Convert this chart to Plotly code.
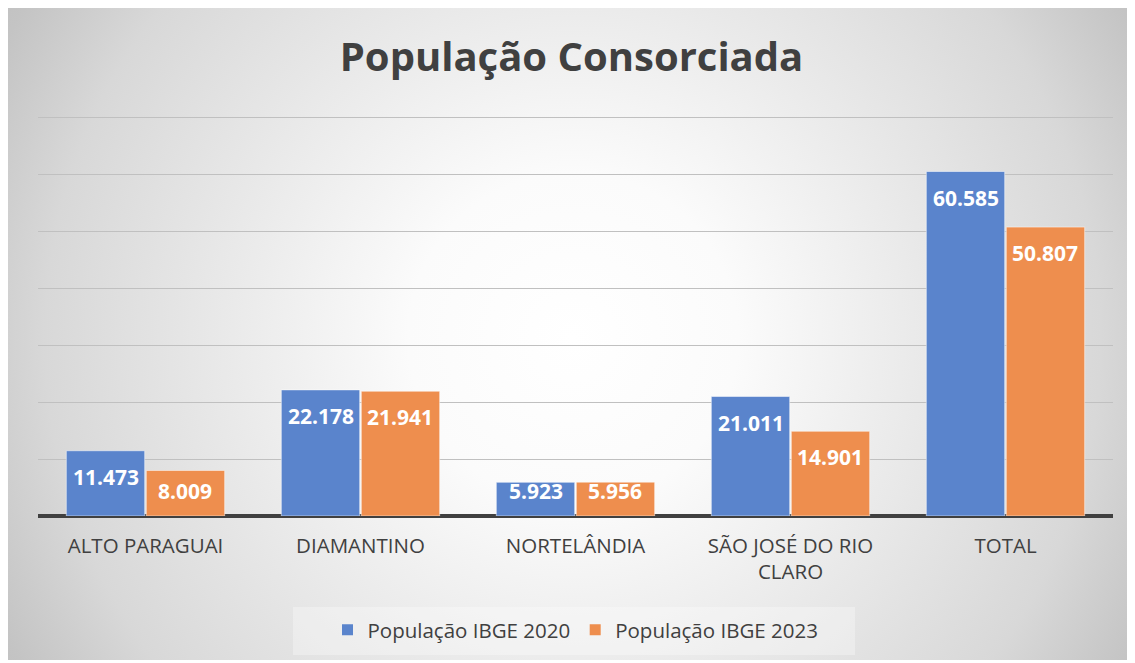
import base64
import plotly.graph_objects as go

categories = ["ALTO PARAGUAI", "DIAMANTINO", "NORTELÂNDIA", "SÃO JOSÉ DO RIO<br>CLARO", "TOTAL"]
pop_2020 = [11473, 22178, 5923, 21011, 60585]
pop_2023 = [8009, 21941, 5956, 14901, 50807]
series_names = ["População IBGE 2020", "População IBGE 2023"]
title_text = "População Consorciada"

W, H = 1127, 655
ML, MR, MT, MB = 30, 22, 106, 147
PW, PH = W - ML - MR, H - MT - MB
YMAX = 70700
BARGAP = 0.256

svg = f'''<svg xmlns="http://www.w3.org/2000/svg" width="{W}" height="{H}" viewBox="0 0 {W} {H}">
<defs><radialGradient id="g" gradientUnits="userSpaceOnUse" cx="565" cy="330" r="660">
<stop offset="0" stop-color="#ffffff"/><stop offset="0.25" stop-color="#fbfbfb"/>
<stop offset="0.5" stop-color="#ebebeb"/><stop offset="0.8" stop-color="#d8d8d8"/>
<stop offset="0.97" stop-color="#c4c4c4"/><stop offset="1" stop-color="#c2c2c2"/>
</radialGradient></defs>
<rect width="{W}" height="{H}" fill="#ffffff"/>
<rect x="0" y="0" width="{W}" height="652" fill="url(#g)"/>
<rect x="285" y="599" width="562" height="48" fill="#ffffff" fill-opacity="0.3"/>
</svg>'''
src = "data:image/svg+xml;base64," + base64.b64encode(svg.encode()).decode()

FONT = "Open Sans"
TXT = "#404040"
fig = go.Figure()
colors = ["#5a84cc", "#ee8e4e"]
annotations = []
for i, (name, vals, c) in enumerate(zip(series_names, [pop_2020, pop_2023], colors)):
    fig.add_trace(go.Bar(
        x=categories, y=vals, name=name, showlegend=False,
        marker=dict(color=c, line=dict(color="rgba(255,255,255,0.5)", width=1)),
    ))
    fig.add_trace(go.Scatter(
        x=[None], y=[None], mode="markers", name=name,
        marker=dict(symbol="square", size=11, color=c),
    ))
    for j, v in enumerate(vals):
        px_h = v / YMAX * PH
        xpos = j + (i - 0.5) * (1 - BARGAP) / 2
        label = f"{v:,}".replace(",", ".")
        if px_h - 26 >= 25:
            annotations.append(dict(x=xpos, y=v, yshift=-26, text=label))
        else:
            annotations.append(dict(x=xpos, y=0, yshift=25, text=label))

for a in annotations:
    a.update(xref="x", yref="y", showarrow=False, xanchor="center", yanchor="middle",
             font=dict(family=FONT, size=21, color="white", weight="bold"))

fig.update_layout(
    width=W, height=H,
    margin=dict(l=ML, r=MR, t=MT, b=MB),
    paper_bgcolor="rgba(0,0,0,0)", plot_bgcolor="rgba(0,0,0,0)",
    title=dict(text=title_text, x=0.5, xanchor="center", y=1 - 49 / H, yanchor="middle",
               font=dict(family=FONT, size=40, color=TXT, weight="bold")),
    barmode="group", bargap=BARGAP, bargroupgap=0.02,
    font=dict(family=FONT, color=TXT),
    xaxis=dict(showgrid=False, tickfont=dict(size=20.5, color=TXT), ticks="", showline=False,
               ticklabelstandoff=15, range=[-0.5, len(categories) - 0.5]),
    yaxis=dict(range=[0, YMAX], dtick=10000, showticklabels=False, showgrid=True,
               gridcolor="#c0c0c0", gridwidth=1, zeroline=True, zerolinecolor="#404040",
               zerolinewidth=3.5, showline=False),
    legend=dict(orientation="h", x=0.5, xanchor="center", y=-(622 - (H - MB)) / PH, yanchor="middle",
                font=dict(size=20.5, color=TXT), bgcolor="rgba(0,0,0,0)", itemwidth=30),
    annotations=annotations,
    images=[dict(source=src, xref="paper", yref="paper", x=-ML / PW, y=1 + MT / PH,
                 sizex=W / PW, sizey=H / PH, sizing="stretch", layer="below",
                 xanchor="left", yanchor="top")],
)
fig.write_html("out.html")
